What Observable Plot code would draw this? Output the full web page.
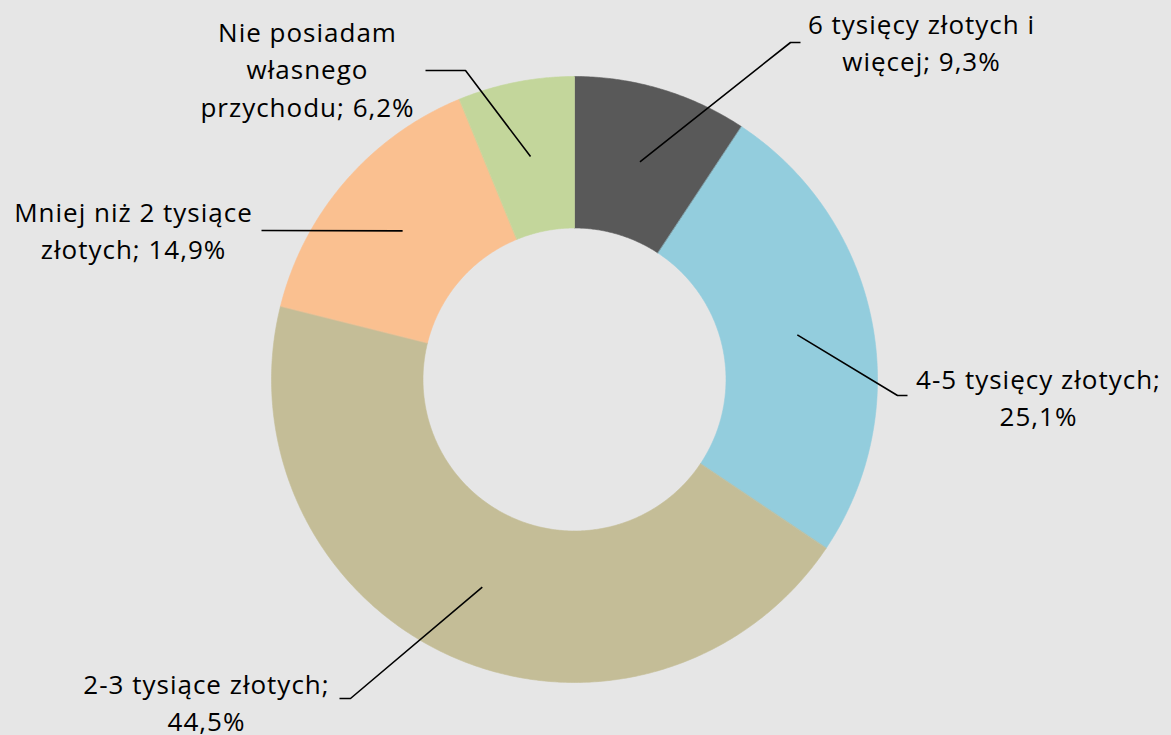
<!DOCTYPE html>
<html><head><meta charset="utf-8">
<script src="https://cdn.jsdelivr.net/npm/d3@7"></script>
<script src="https://cdn.jsdelivr.net/npm/@observablehq/plot@0.6"></script>
<style>html,body{margin:0;padding:0;background:#e6e6e6;overflow:hidden;}</style>
</head><body><div id="chart"></div>
<script>
// ---- data ----
const categories = ["6 tysięcy złotych i więcej", "4-5 tysięcy złotych", "2-3 tysiące złotych", "Mniej niż 2 tysiące złotych", "Nie posiadam własnego przychodu"];
const values = [9.3, 25.1, 44.5, 14.9, 6.2];
const colors = ["#595959", "#93CDDD", "#C4BD97", "#FAC090", "#C3D69B"];
// label wording with line breaks
const labelNames = ["6 tysięcy złotych i\nwięcej", "4-5 tysięcy złotych", "2-3 tysiące złotych", "Mniej niż 2 tysiące\nzłotych", "Nie posiadam\nwłasnego\nprzychodu"];
const labelSeps = ["; ", ";\n", ";\n", "; ", "; "];

// ---- layout (pixels) ----
const W = 1171, H = 735, CX = 574, CY = 379, R = 303, INNER = 0.5;
const toX = px => (px - CX) / R, toY = py => (CY - py) / R;
// leader line bends after the slice start point, and label centres
const leaderBends = [[[790,42],[800,42]], [[897,395],[907,395]], [[350,698],[339,698]], [[261,230]], [[465,70],[425,70]]];
const labelCentres = [[921,40], [1038,395], [206,700], [133,228], [307,67]];

// ---- geometry from values ----
const total = d3.sum(values);
let acc = 0;
const slices = values.map((v, i) => {
  const a0 = acc / total * 2 * Math.PI; acc += v;
  const a1 = acc / total * 2 * Math.PI;
  return {cat: categories[i], v, a0, a1, mid: (a0 + a1) / 2};
});
const ringData = [];
for (const s of slices) {
  const n = Math.max(8, Math.ceil((s.a1 - s.a0) / (Math.PI / 360)));
  for (let k = 0; k <= n; k++) { const a = s.a0 + (s.a1 - s.a0) * k / n; ringData.push({cat: s.cat, x: Math.sin(a), y: Math.cos(a)}); }
  for (let k = n; k >= 0; k--) { const a = s.a0 + (s.a1 - s.a0) * k / n; ringData.push({cat: s.cat, x: INNER * Math.sin(a), y: INNER * Math.cos(a)}); }
}
const midR = (1 + INNER) / 2;
const leaderData = [];
slices.forEach((s, i) => {
  leaderData.push({cat: s.cat, x: midR * Math.sin(s.mid), y: midR * Math.cos(s.mid)});
  for (const [px, py] of leaderBends[i]) leaderData.push({cat: s.cat, x: toX(px), y: toY(py)});
});
const fmt = v => v.toFixed(1).replace(".", ",") + "%";
const labelData = slices.map((s, i) => ({
  text: labelNames[i] + labelSeps[i] + fmt(s.v),
  x: toX(labelCentres[i][0]), y: toY(labelCentres[i][1])
}));

const chart = Plot.plot({
  width: W, height: H, margin: 0,
  x: {domain: [-1, 1], range: [CX - R, CX + R], axis: null},
  y: {domain: [-1, 1], range: [CY + R, CY - R], axis: null},
  color: {domain: categories, range: colors},
  style: {background: "#e6e6e6", fontFamily: "'Open Sans', sans-serif", color: "black", letterSpacing: "1px"},
  marks: [
    Plot.line(ringData, {x: "x", y: "y", z: "cat", fill: "cat", stroke: "cat", strokeWidth: 0.6, curve: "linear-closed"}),
    Plot.line(leaderData, {x: "x", y: "y", z: "cat", stroke: "black", strokeWidth: 1.6, strokeLinecap: "butt", strokeLinejoin: "miter"}),
    Plot.text(labelData, {x: "x", y: "y", text: "text", fontSize: 26, lineHeight: 1.44, fill: "#000", textAnchor: "middle"})
  ]
});
document.getElementById("chart").appendChild(chart);
</script>
</body></html>
